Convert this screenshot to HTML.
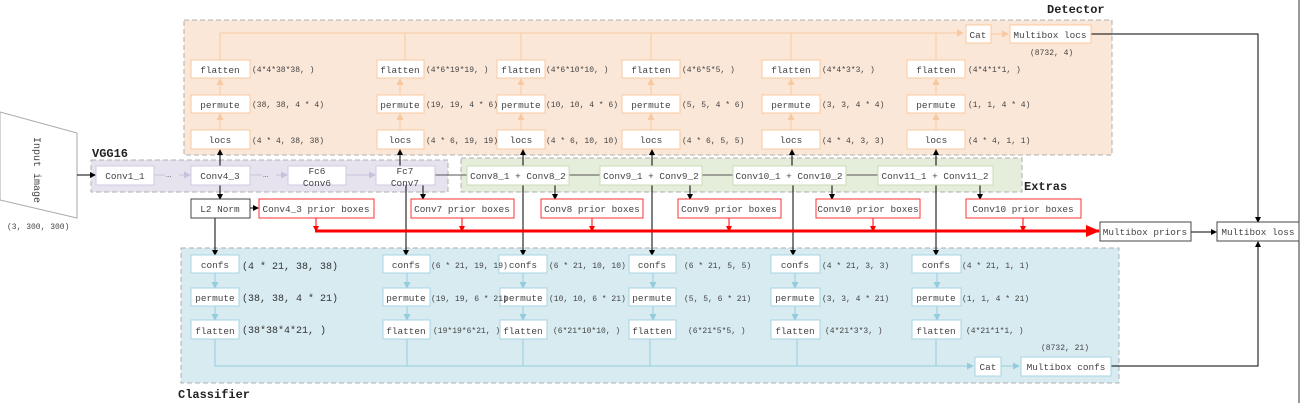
<!DOCTYPE html>
<html><head><meta charset="utf-8"><style>
html,body{margin:0;padding:0;background:#fff;}
svg{display:block;font-family:"Liberation Mono","Noto Serif CJK SC",monospace;}
</style></head><body>
<svg width="1301" height="403" viewBox="0 0 1301 403" xmlns="http://www.w3.org/2000/svg">
<defs>
<marker id="ab" markerWidth="6" markerHeight="6" refX="5" refY="3" orient="auto" markerUnits="userSpaceOnUse"><path d="M0,0L6,3L0,6z" fill="#000"/></marker>
<marker id="ao" markerWidth="7" markerHeight="7" refX="6" refY="3.5" orient="auto" markerUnits="userSpaceOnUse"><path d="M0,0L7,3.5L0,7z" fill="#f8c9a0"/></marker>
<marker id="ac" markerWidth="7" markerHeight="7" refX="6" refY="3.5" orient="auto" markerUnits="userSpaceOnUse"><path d="M0,0L7,3.5L0,7z" fill="#93cddd"/></marker>
<marker id="ap" markerWidth="7" markerHeight="7" refX="6" refY="3.5" orient="auto" markerUnits="userSpaceOnUse"><path d="M0,0L7,3.5L0,7z" fill="#c8c0dc"/></marker>
<marker id="ar" markerWidth="6" markerHeight="6" refX="5" refY="3" orient="auto" markerUnits="userSpaceOnUse"><path d="M0,0L6,3L0,6z" fill="#f00"/></marker>
<marker id="arb" markerWidth="14" markerHeight="12" refX="13" refY="6" orient="auto" markerUnits="userSpaceOnUse"><path d="M0,0L14,6L0,12z" fill="#f00"/></marker>
</defs>

<rect x="184" y="20" width="928" height="135" fill="#fbe7d8" stroke="#b0b0b0" stroke-dasharray="5,3"/>
<rect x="91" y="160" width="357" height="32" fill="#e6e3ee" stroke="#b0b0b0" stroke-dasharray="5,3"/>
<rect x="461" y="158" width="561" height="34" fill="#e5eddb" stroke="#b0b0b0" stroke-dasharray="5,3"/>
<rect x="181" y="248" width="938" height="135" fill="#d8ebf1" stroke="#b0b0b0" stroke-dasharray="5,3"/>

<g font-size="12" font-weight="bold" fill="#222">
<text x="1047" y="13">Detector</text>
<text x="92" y="157">VGG16</text>
<text x="1024" y="190">Extras</text>
<text x="178" y="398">Classifier</text>
</g>

<polygon points="0,112 77,133 77,218 0,200" fill="#fff" stroke="#aaa"/>
<text x="0" y="0" font-size="10" fill="#444" transform="translate(34,137) rotate(90)">Input image</text>
<text x="7" y="229" font-size="8" fill="#444">(3, 300, 300)</text>
<line x1="77" y1="175" x2="95" y2="175" stroke="#000" marker-end="url(#ab)"/>

<g stroke="#f8c9a0" fill="none">
<polyline points="220,60 220,33 963,33" marker-end="url(#ao)"/>
<line x1="405" y1="60" x2="405" y2="33"/><line x1="521" y1="60" x2="521" y2="33"/>
<line x1="651" y1="60" x2="651" y2="33"/><line x1="791" y1="60" x2="791" y2="33"/>
<line x1="936" y1="60" x2="936" y2="33"/>
<line x1="991" y1="34" x2="1008" y2="34" marker-end="url(#ao)"/>
</g>
<g stroke="#f8c9a0" marker-end="url(#ao)">
<line x1="220" y1="130" x2="220" y2="114"/><line x1="220" y1="95" x2="220" y2="79"/>
<line x1="400" y1="130" x2="400" y2="114"/><line x1="400" y1="95" x2="400" y2="79"/>
<line x1="521" y1="130" x2="521" y2="114"/><line x1="521" y1="95" x2="521" y2="79"/>
<line x1="651" y1="130" x2="651" y2="114"/><line x1="651" y1="95" x2="651" y2="79"/>
<line x1="791" y1="130" x2="791" y2="114"/><line x1="791" y1="95" x2="791" y2="79"/>
<line x1="936" y1="130" x2="936" y2="114"/><line x1="936" y1="95" x2="936" y2="79"/>
</g>

<g stroke="#93cddd" marker-end="url(#ac)">
<line x1="215" y1="273" x2="215" y2="288"/><line x1="215" y1="306" x2="215" y2="320"/>
<line x1="407" y1="273" x2="407" y2="288"/><line x1="407" y1="306" x2="407" y2="320"/>
<line x1="523" y1="273" x2="523" y2="288"/><line x1="523" y1="306" x2="523" y2="320"/>
<line x1="653" y1="273" x2="653" y2="288"/><line x1="653" y1="306" x2="653" y2="320"/>
<line x1="795" y1="273" x2="795" y2="288"/><line x1="795" y1="306" x2="795" y2="320"/>
<line x1="937" y1="273" x2="937" y2="288"/><line x1="937" y1="306" x2="937" y2="320"/>
</g>
<g stroke="#93cddd" fill="none">
<polyline points="215,339 215,366 973,366" marker-end="url(#ac)"/>
<line x1="407" y1="339" x2="407" y2="366"/><line x1="523" y1="339" x2="523" y2="366"/>
<line x1="650" y1="339" x2="650" y2="366"/><line x1="797" y1="339" x2="797" y2="366"/>
<line x1="936" y1="339" x2="936" y2="366"/>
<line x1="1001" y1="366" x2="1019" y2="366" marker-end="url(#ac)"/>
</g>

<g stroke="#c8c0dc" marker-end="url(#ap)">
<line x1="154" y1="175" x2="190" y2="175"/>
<line x1="250" y1="175" x2="287" y2="175"/>
<line x1="346" y1="175" x2="375" y2="175"/>
</g>
<rect x="165" y="170" width="14" height="8" fill="#e6e3ee"/><text x="166" y="177" font-size="9" fill="#777">…</text>
<rect x="262" y="170" width="14" height="8" fill="#e6e3ee"/><text x="263" y="177" font-size="9" fill="#777">…</text>

<g stroke="#555"><line x1="435" y1="175" x2="467" y2="175"/><line x1="569" y1="175" x2="600" y2="175"/><line x1="702" y1="175" x2="733" y2="175"/><line x1="846" y1="175" x2="878" y2="175"/></g>

<g stroke="#000" marker-end="url(#ab)">
<line x1="220" y1="166" x2="220" y2="150"/>
<line x1="220" y1="185" x2="220" y2="199"/>
<line x1="215" y1="218" x2="215" y2="255"/>
<line x1="250" y1="208" x2="258" y2="208"/>
<line x1="400" y1="166" x2="400" y2="150"/>
<line x1="406" y1="185" x2="406" y2="255"/>
<line x1="423" y1="185" x2="423" y2="199"/>
<line x1="523" y1="185" x2="523" y2="255"/><line x1="523" y1="166" x2="523" y2="150"/>
<line x1="555" y1="185" x2="555" y2="199"/>
<line x1="652" y1="185" x2="652" y2="255"/><line x1="652" y1="166" x2="652" y2="150"/>
<line x1="690" y1="185" x2="690" y2="199"/>
<line x1="793" y1="185" x2="793" y2="255"/><line x1="792" y1="166" x2="792" y2="150"/>
<line x1="832" y1="185" x2="832" y2="199"/>
<line x1="936" y1="185" x2="936" y2="255"/><line x1="936" y1="166" x2="936" y2="150"/>
<line x1="980" y1="185" x2="980" y2="199"/>
<line x1="1191" y1="232" x2="1216" y2="232"/>
<polyline fill="none" points="1091,34 1258,34 1258,222"/>
<polyline fill="none" points="1111,366 1258,366 1258,242"/>
</g>
<line x1="1299" y1="0" x2="1299" y2="403" stroke="#333"/>

<g stroke="#f00" marker-end="url(#ar)">
<line x1="316" y1="218" x2="316" y2="231"/><line x1="462" y1="218" x2="462" y2="231"/>
<line x1="592" y1="218" x2="592" y2="231"/><line x1="729" y1="218" x2="729" y2="231"/>
<line x1="873" y1="218" x2="873" y2="231"/><line x1="1023" y1="218" x2="1023" y2="231"/>
</g>
<line x1="315" y1="231" x2="1099" y2="231" stroke="#f00" stroke-width="3" marker-end="url(#arb)"/>

<g fill="#fff" stroke="#f8c9a0">
<rect x="191" y="60" width="59" height="18"/><rect x="191" y="95" width="59" height="18"/><rect x="191" y="130" width="59" height="19"/>
<rect x="377" y="60" width="47" height="18"/><rect x="377" y="95" width="47" height="18"/><rect x="377" y="130" width="47" height="19"/>
<rect x="497" y="60" width="48" height="18"/><rect x="497" y="95" width="48" height="18"/><rect x="497" y="130" width="48" height="19"/>
<rect x="622" y="60" width="58" height="18"/><rect x="622" y="95" width="58" height="18"/><rect x="622" y="130" width="58" height="19"/>
<rect x="762" y="60" width="58" height="18"/><rect x="762" y="95" width="58" height="18"/><rect x="762" y="130" width="58" height="19"/>
<rect x="907" y="60" width="58" height="18"/><rect x="907" y="95" width="58" height="18"/><rect x="907" y="130" width="58" height="19"/>
<rect x="966" y="25" width="25" height="18"/><rect x="1010" y="25" width="81" height="18"/>
</g>
<g fill="#fff" stroke="#d2cbe3">
<rect x="96" y="166" width="58" height="19"/><rect x="191" y="166" width="59" height="19"/>
<rect x="288" y="166" width="58" height="19"/><rect x="376" y="166" width="59" height="19"/>
</g>
<g fill="#fff" stroke="#c9dcb5">
<rect x="467" y="166" width="102" height="19"/><rect x="600" y="166" width="102" height="19"/>
<rect x="733" y="166" width="113" height="19"/><rect x="878" y="166" width="115" height="19"/>
</g>
<g fill="#fff" stroke="#f33">
<rect x="259" y="199" width="115" height="19"/><rect x="411" y="199" width="103" height="19"/>
<rect x="541" y="199" width="102" height="19"/><rect x="678" y="199" width="103" height="19"/>
<rect x="816" y="199" width="104" height="19"/><rect x="966" y="199" width="115" height="19"/>
</g>
<g fill="#fff" stroke="#444">
<rect x="191" y="199" width="59" height="19"/>
<rect x="1100" y="222" width="91" height="19"/><rect x="1217" y="222" width="82" height="19"/>
</g>
<g fill="#fff" stroke="#a6d4e2">
<rect x="191" y="255" width="48" height="18"/><rect x="191" y="288" width="48" height="18"/><rect x="191" y="320" width="48" height="19"/>
<rect x="383" y="255" width="47" height="18"/><rect x="383" y="288" width="47" height="18"/><rect x="383" y="320" width="47" height="19"/>
<rect x="499" y="255" width="48" height="18"/><rect x="500" y="288" width="47" height="18"/><rect x="500" y="320" width="47" height="19"/>
<rect x="629" y="255" width="47" height="18"/><rect x="629" y="288" width="47" height="18"/><rect x="629" y="320" width="47" height="19"/>
<rect x="771" y="255" width="49" height="18"/><rect x="771" y="288" width="49" height="18"/><rect x="771" y="320" width="49" height="19"/>
<rect x="912" y="255" width="49" height="18"/><rect x="912" y="288" width="49" height="18"/><rect x="912" y="320" width="49" height="19"/>
<rect x="975" y="357" width="26" height="19"/><rect x="1021" y="357" width="90" height="19"/>
</g>

<g font-size="9.4" fill="#444" text-anchor="middle">
<text x="220" y="73">flatten</text><text x="220" y="108">permute</text><text x="220" y="143">locs</text>
<text x="400" y="73">flatten</text><text x="400" y="108">permute</text><text x="400" y="143">locs</text>
<text x="521" y="73">flatten</text><text x="521" y="108">permute</text><text x="521" y="143">locs</text>
<text x="651" y="73">flatten</text><text x="651" y="108">permute</text><text x="651" y="143">locs</text>
<text x="791" y="73">flatten</text><text x="791" y="108">permute</text><text x="791" y="143">locs</text>
<text x="936" y="73">flatten</text><text x="936" y="108">permute</text><text x="936" y="143">locs</text>
<text x="978" y="38">Cat</text><text x="1050" y="38">Multibox locs</text>
<text x="125" y="179">Conv1_1</text><text x="220" y="179">Conv4_3</text>
<text x="317" y="174">Fc6</text><text x="317" y="186">Conv6</text>
<text x="405" y="174">Fc7</text><text x="405" y="186">Conv7</text>
<text x="518" y="179">Conv8_1 + Conv8_2</text><text x="651" y="179">Conv9_1 + Conv9_2</text>
<text x="789" y="179">Conv10_1 + Conv10_2</text><text x="935" y="179">Conv11_1 + Conv11_2</text>
<text x="220" y="212">L2 Norm</text>
<text x="316" y="212">Conv4_3 prior boxes</text><text x="462" y="212">Conv7 prior boxes</text>
<text x="592" y="212">Conv8 prior boxes</text><text x="729" y="212">Conv9 prior boxes</text>
<text x="868" y="212">Conv10 prior boxes</text><text x="1023" y="212">Conv10 prior boxes</text>
<text x="1145" y="235">Multibox priors</text><text x="1258" y="235">Multibox loss</text>
<text x="215" y="268">confs</text><text x="215" y="301">permute</text><text x="215" y="334">flatten</text>
<text x="406" y="268">confs</text><text x="406" y="301">permute</text><text x="406" y="334">flatten</text>
<text x="523" y="268">confs</text><text x="523" y="301">permute</text><text x="523" y="334">flatten</text>
<text x="652" y="268">confs</text><text x="652" y="301">permute</text><text x="652" y="334">flatten</text>
<text x="795" y="268">confs</text><text x="795" y="301">permute</text><text x="795" y="334">flatten</text>
<text x="936" y="268">confs</text><text x="936" y="301">permute</text><text x="936" y="334">flatten</text>
<text x="988" y="370">Cat</text><text x="1066" y="370">Multibox confs</text>
</g>

<g font-size="8" fill="#444">
<text x="252" y="72">(4*4*38*38, )</text><text x="252" y="107">(38, 38, 4 * 4)</text><text x="252" y="143">(4 * 4, 38, 38)</text>
<text x="426" y="72">(4*6*19*19, )</text><text x="426" y="107">(19, 19, 4 * 6)</text><text x="426" y="143">(4 * 6, 19, 19)</text>
<text x="546" y="72">(4*6*10*10, )</text><text x="546" y="107">(10, 10, 4 * 6)</text><text x="546" y="143">(4 * 6, 10, 10)</text>
<text x="682" y="72">(4*6*5*5, )</text><text x="682" y="107">(5, 5, 4 * 6)</text><text x="682" y="143">(4 * 6, 5, 5)</text>
<text x="822" y="72">(4*4*3*3, )</text><text x="822" y="107">(3, 3, 4 * 4)</text><text x="822" y="143">(4 * 4, 3, 3)</text>
<text x="968" y="72">(4*4*1*1, )</text><text x="968" y="107">(1, 1, 4 * 4)</text><text x="968" y="143">(4 * 4, 1, 1)</text>
<text x="1030" y="55">(8732, 4)</text>
<text x="431" y="268">(6 * 21, 19, 19)</text><text x="431" y="301">(19, 19, 6 * 21)</text><text x="433" y="333">(19*19*6*21, )</text>
<text x="549" y="268">(6 * 21, 10, 10)</text><text x="549" y="301">(10, 10, 6 * 21)</text><text x="553" y="333">(6*21*10*10, )</text>
<text x="684" y="268">(6 * 21, 5, 5)</text><text x="684" y="301">(5, 5, 6 * 21)</text><text x="688" y="333">(6*21*5*5, )</text>
<text x="822" y="268">(4 * 21, 3, 3)</text><text x="822" y="301">(3, 3, 4 * 21)</text><text x="825" y="333">(4*21*3*3, )</text>
<text x="962" y="268">(4 * 21, 1, 1)</text><text x="962" y="301">(1, 1, 4 * 21)</text><text x="966" y="333">(4*21*1*1, )</text>
<text x="1041" y="350">(8732, 21)</text>
</g>
<g font-size="10" fill="#333">
<text x="242" y="269">(4 * 21, 38, 38)</text><text x="242" y="301">(38, 38, 4 * 21)</text><text x="242" y="333">(38*38*4*21, )</text>
</g>
</svg>
</body></html>
